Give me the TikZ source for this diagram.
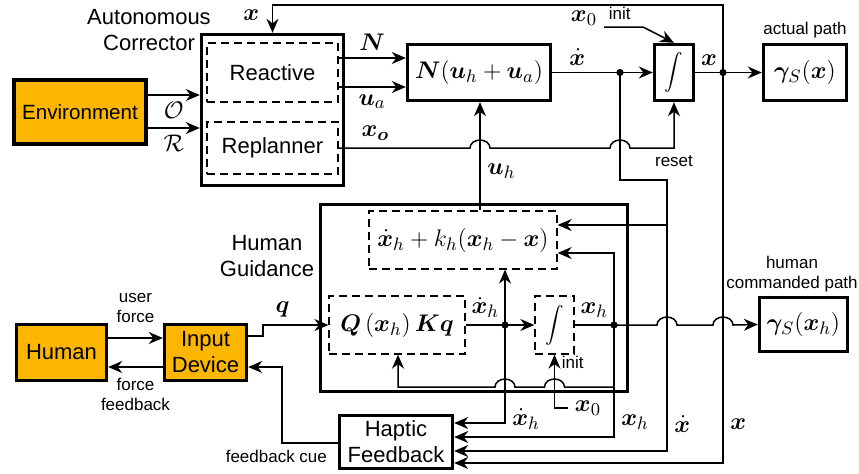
\documentclass[tikz,border=0pt]{standalone}
\usepackage{amsmath, amssymb, bm}
\usepackage[no-math]{fontspec}
\setmainfont{Liberation Sans}
\usepackage{xcolor}
\usepackage{tikz}
\usetikzlibrary{arrows.meta, positioning, calc}
\definecolor{envorange}{RGB}{252,182,0}

\begin{document}
\begin{tikzpicture}[x=0.5pt, y=-0.5pt,
    font=\fontsize{12.5}{14}\selectfont,
    blk/.style={draw, line width=1.7pt, inner sep=2pt},
    dbox/.style={draw, line width=0.65pt, dash pattern=on 4pt off 2.5pt, inner sep=2pt},
    org/.style={blk, fill=envorange},
    wd/.style={font=\fontsize{11}{13}\selectfont, align=center},
    note/.style={font=\fontsize{8.5}{10}\selectfont, align=center},
    ln/.style={line width=0.75pt},
    arr/.style={ln, -{Stealth[length=7pt, width=6pt]}}]
    \useasboundingbox (0,0) rectangle (859,473);

    % blocks
    \node[org, wd, font=\fontsize{10.3}{12}\selectfont, minimum width=66pt, minimum height=32pt] (env) at (80,112) {Environment};
    \node[blk, minimum width=71pt, minimum height=75.5pt] (ac) at (272.5,110) {};
    \node[dbox, wd, minimum width=65.5pt, minimum height=29.5pt] (react) at (272.5,72.5) {Reactive};
    \node[dbox, wd, minimum width=65.5pt, minimum height=26pt] (repl) at (272.5,148) {Replanner};
    \node[wd] (aclbl) at (149,30) {Autonomous\\Corrector};
    \node[blk, minimum width=71.5pt, minimum height=28pt] (nbox) at (479,72.5) {$\bm{N}(\bm{u}_h+\bm{u}_a)$};
    \node[blk, minimum width=19.5pt, minimum height=28pt] (integ) at (674,72.5) {\fontsize{9}{10}\selectfont$\displaystyle\int$};
    \node[blk, minimum width=41.5pt, minimum height=28pt] (gam) at (805,72.5) {$\bm{\gamma}_S(\bm{x})$};
    \node[note, above=-1pt of gam] (gamlbl) {actual path};

    \node[blk, minimum width=153.5pt, minimum height=93.5pt] (hg) at (474,298) {};
    \node[wd] (hglbl) at (267,256) {Human\\Guidance};
    \node[dbox, minimum width=94pt, minimum height=29pt] (upd) at (463,240) {$\dot{\bm{x}}_h+k_h(\bm{x}_h-\bm{x})$};
    \node[dbox, minimum width=68pt, minimum height=29pt] (qbox) at (397,325) {$\bm{Q}\left(\bm{x}_h\right)\bm{K}\bm{q}$};
    \node[dbox, minimum width=19.5pt, minimum height=29pt] (hint) at (554.5,325) {\fontsize{9}{10}\selectfont$\displaystyle\int$};
    \node[blk, minimum width=44pt, minimum height=27pt] (gamh) at (803.5,324.5) {$\bm{\gamma}_S(\bm{x}_h)$};
    \node[note, anchor=south, inner sep=1.5pt] (gamhlbl) at (792,295) {human\\commanded path};

    \node[org, wd, minimum width=45pt, minimum height=28pt] (human) at (61.5,352.5) {Human};
    \node[org, wd, minimum width=41pt, minimum height=28pt] (indev) at (205.5,352.5) {Input\\Device};
    \node[blk, wd, minimum width=56.5pt, minimum height=26.5pt] (hap) at (396,442) {Haptic\\Feedback};

    \coordinate (dxd) at (620,72.5);
    \coordinate (dx) at (723,72.5);
    \coordinate (dxh) at (505,325);
    \coordinate (dh) at (614,325);

    % autonomous part
    \draw[arr] (env.east |- 0,95) -- node[below] (lo) {$\mathcal{O}$} (ac.west |- 0,95);
    \draw[arr] (env.east |- 0,128) -- node[below] (lr) {$\mathcal{R}$} (ac.west |- 0,128);
    \draw[arr] (dx) -- (723,5) -- (272.5,5) -- node[left=3pt, pos=0.35] (lxa) {$\bm{x}$} (ac.north);
    \draw[arr] (react.east |- 0,58) -- node[above] (ln) {$\bm{N}$} (nbox.west |- 0,58);
    \draw[arr] (react.east |- 0,87) -- node[below] (lua) {$\bm{u}_a$} (nbox.west |- 0,87);
    \draw[ln] (nbox.east) -- node[above, pos=0.37] (lxd) {$\dot{\bm{x}}$} (dxd);
    \draw[arr] (dxd) -- (integ.west);
    \draw[ln] (integ.east) -- node[above] (lx) {$\bm{x}$} (dx);
    \draw[arr] (dx) -- (gam.west);
    \node (x0t) at (584,18) {$\bm{x}_0$};
    \draw[arr] (x0t.east |- 0,27) -- node[above, note, pos=0.4] (linit) {init} (643,27) -- (integ.north);
    \draw[arr] (repl.east) -- node[above, pos=0.28] (lxo) {$\bm{x_o}$} (470,148)
        arc[start angle=180, end angle=0, x radius=5pt, y radius=4pt] -- (610,148)
        arc[start angle=180, end angle=0, x radius=5pt, y radius=4pt] -- (integ.south |- 0,148)
        node[below, note] (lreset) {reset} -- (integ.south);
    \draw[arr] (upd.north -| 480,0) -- node[right, pos=0.36] (luh) {$\bm{u}_h$} (nbox.south -| 480,0);

    % feedback lines
    \draw[arr] (dxd) -- (620,180) -- (667,180) -- node[right, pos=0.9] (lxd2) {$\dot{\bm{x}}$} (667,451) -- (hap.east |- 0,451);
    \draw[arr] (667,225) -- (upd.east |- 0,225);
    \draw[arr] (dx) -- node[right, pos=0.9] (lx2) {$\bm{x}$} (723,463) -- (hap.east |- 0,463);

    % human part
    \draw[ln] (qbox.east) -- node[above] (lxdh) {$\dot{\bm{x}}_h$} (dxh);
    \draw[arr] (dxh) -- (hint.west);
    \draw[arr] (dxh) -- (upd.south -| dxh);
    \draw[arr] (dxh) -- node[right, pos=0.96] (lxdh2) {$\dot{\bm{x}}_h$} (505,423) -- (hap.east |- 0,423);
    \draw[ln] (hint.east) -- node[above] (lxh) {$\bm{x}_h$} (dh);
    \draw[arr] (dh) -- (657,325)
        arc[start angle=180, end angle=0, x radius=5pt, y radius=4pt] -- (713,325)
        arc[start angle=180, end angle=0, x radius=5pt, y radius=4pt] -- (gamh.west);
    \draw[arr] (dh) -- (614,253) -- (upd.east |- 0,253);
    \draw[arr] (dh) -- node[right, pos=0.87] (lxh2) {$\bm{x}_h$} (614,437) -- (hap.east |- 0,437);
    \draw[arr] (614,387) -- (564.5,387)
        arc[start angle=0, end angle=180, x radius=5pt, y radius=4pt] -- (515,387)
        arc[start angle=0, end angle=180, x radius=5pt, y radius=4pt] -- (398,387) -- (qbox.south -| 398,0);
    \node (x0b) at (588,408) {$\bm{x}_0$};
    \draw[arr] (x0b.west) -- (hint.south |- 0,408) -- node[right, pos=0.85, note] (linit2) {init} (hint.south);

    \draw[arr] (human.east |- 0,338) -- node[above=4pt, note] (luser) {user\\force} (indev.west |- 0,338);
    \draw[arr] (indev.west |- 0,367) -- node[below=2pt, note] (lforce) {force\\feedback} (human.east |- 0,367);
    \draw[arr] (indev.east |- 0,336) -- (263,336) -- (263,325) -- node[above, pos=0.3] (lq) {$\bm{q}$} (qbox.west);
    \draw[arr] (hap.west |- 0,443) -- (282,443) -- (282,367) -- (indev.east |- 0,367);
    \node[note, anchor=north east] (lcue) at (334,443) {feedback cue};

    \foreach \p in {dxd, dx, dxh, dh}
        \fill (\p) circle (1.8pt);
\end{tikzpicture}
\end{document}
